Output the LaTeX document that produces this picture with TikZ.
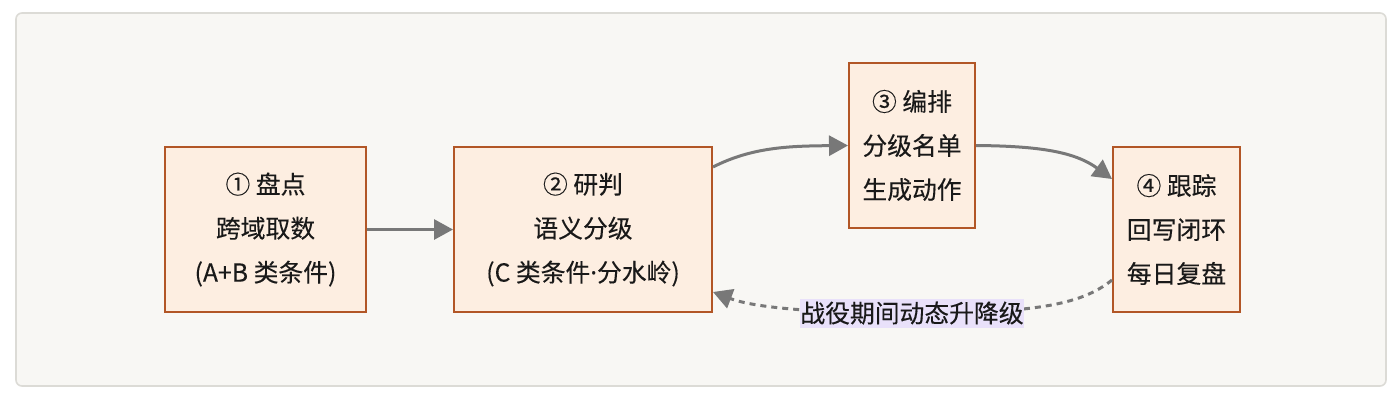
\documentclass[tikz,border=0pt]{standalone}
\usepackage{fontspec}
\setmainfont{Noto Sans CJK SC}
\newfontfamily\dotfont{Noto Sans}
\usetikzlibrary{arrows.meta}
\definecolor{pagebg}{RGB}{248,247,244}
\definecolor{framec}{RGB}{220,219,214}
\definecolor{boxfill}{RGB}{253,238,225}
\definecolor{boxline}{RGB}{178,86,38}
\definecolor{arrowc}{RGB}{120,120,120}
\definecolor{labelbg}{RGB}{233,225,250}
\definecolor{txt}{RGB}{25,25,25}
\newcommand{\txtfont}[1]{\fontsize{#1}{22pt}\selectfont\addfontfeature{FakeBold=0.25}}
\tikzset{
  stepbox/.style={draw=boxline, line width=1pt, fill=boxfill, text=txt, align=center,
    font=\txtfont{12.4pt}, inner sep=0pt},
  flow/.style={draw=arrowc, line width=1.5pt, -{Triangle[length=9.5pt,width=10pt]}},
  backflow/.style={draw=arrowc, line width=1.5pt, dash pattern=on 3pt off 2.5pt,
    -{Triangle[length=9.5pt,width=10pt]}},
  lbl/.style={fill=labelbg, text=txt, font=\txtfont{12.4pt},
    inner xsep=0pt, inner ysep=1.5pt}
}
\begin{document}
\begin{tikzpicture}[x=0.5pt,y=-0.5pt]
\useasboundingbox (0,0) rectangle (1400,403);
\fill[white] (0,0) rectangle (1400,403);
\draw[framec, fill=pagebg, line width=0.8pt, rounded corners=3pt] (16,13) rectangle (1386,386);

\node[stepbox, minimum width=100.5pt, minimum height=82.5pt] (b1) at (265.5,229.5)
  {① 盘点\\跨域取数\\(A+B 类条件)};
\node[stepbox, minimum width=129pt, minimum height=82.5pt] (b2) at (583,229.5)
  {② 研判\\语义分级\\(C 类条件{\dotfont\addfontfeature{FakeBold=0.25}·}分水岭)};
\node[stepbox, minimum width=63pt, minimum height=82.5pt] (b3) at (912,145.5)
  {③ 编排\\分级名单\\生成动作};
\node[stepbox, minimum width=63.5pt, minimum height=82.5pt] (b4) at (1176.5,229.5)
  {④ 跟踪\\回写闭环\\每日复盘};

\draw[flow] (b1.east) -- (b2.west);
\draw[flow] (b2.east |- 0,167) .. controls (752,147) and (790,146) .. (b3.west);
\draw[flow] (b3.east) .. controls (1040,146) and (1075,152) .. (b4.west |- 0,179);

\coordinate (m) at (912,313);
\draw[backflow] (b4.west |- 0,280) .. controls (1080,306) and (1030,313) .. (m)
  .. controls (800,313) and (750,306) .. (b2.east |- 0,292);
\node[lbl] (l) at (m) {战役期间动态升降级};
\end{tikzpicture}
\end{document}
